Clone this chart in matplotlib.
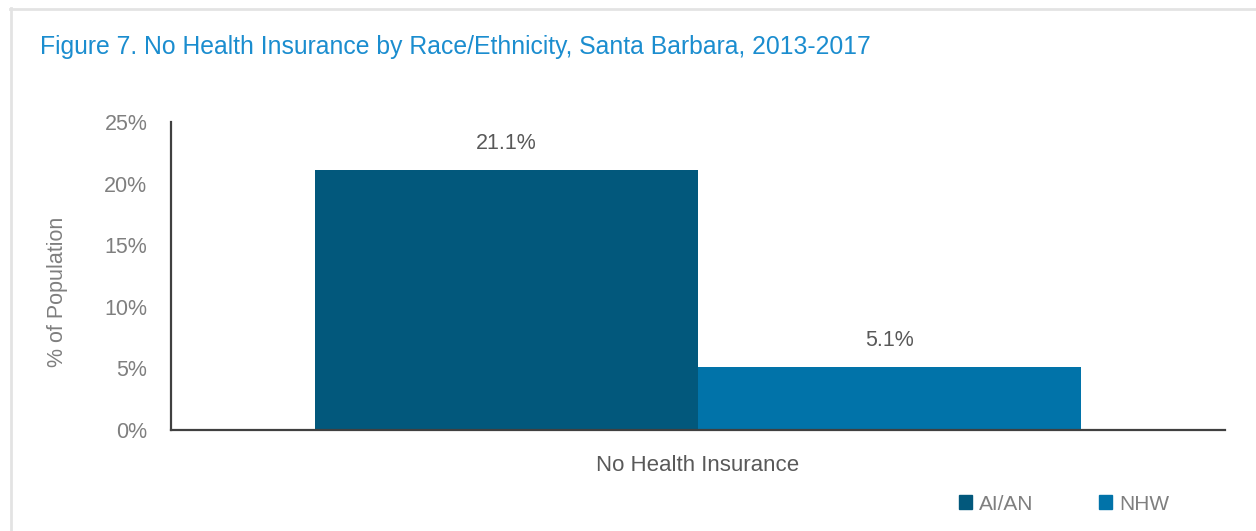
import matplotlib.pyplot as plt
from matplotlib.lines import Line2D
from matplotlib.patches import Patch

# data
category = "No Health Insurance"
groups = ["AI/AN", "NHW"]
values = [21.1, 5.1]
colors = ["#02587c", "#0173a9"]
yticks = [0, 5, 10, 15, 20, 25]

W, H, DPI = 1256, 531, 100
plt.rcParams['font.family'] = ['Liberation Sans', 'DejaVu Sans']
grey = "#7f7f7f"

fig = plt.figure(figsize=(W / DPI, H / DPI), dpi=DPI)
fig.patch.set_facecolor("white")

# light frame around the figure box
fig.add_artist(Line2D([10 / W, 1], [1 - 8.5 / H, 1 - 8.5 / H], color="#e3e3e3", lw=2))
fig.add_artist(Line2D([10.5 / W, 10.5 / W], [0, 1 - 8 / H], color="#e3e3e3", lw=2))

fig.text(40 / W, 1 - 47 / H, "Figure 7. No Health Insurance by Race/Ethnicity, Santa Barbara, 2013-2017",
         color="#1b8dcf", fontsize=17.8, va="center", ha="left")

ax = fig.add_axes([171 / W, 1 - 430 / H, (1225 - 171) / W, (430 - 122) / H])
bw = 383 / 1054
offsets = [-bw / 2, bw / 2]
for g, v, c, o in zip(groups, values, colors, offsets):
    ax.bar(o, v, width=bw, color=c, label=g)
    ax.text(o, v + 1.3, f"{v:.1f}%", ha="center", va="bottom", color="#595959", fontsize=15.5)

ax.set_xlim(-0.5, 0.5)
ax.set_ylim(0, 25)
ax.set_yticks(yticks)
ax.set_yticklabels([f"{t}%" for t in yticks], color=grey, fontsize=15.5)
ax.set_xticks([0])
ax.set_xticklabels([category], color="#595959", fontsize=16)
ax.tick_params(length=0, axis="y", pad=17)
ax.tick_params(length=0, axis="x", pad=18)
for s in ["top", "right"]:
    ax.spines[s].set_visible(False)
for s in ["left", "bottom"]:
    ax.spines[s].set_color("#404040")
    ax.spines[s].set_linewidth(1.6)
ax.set_ylabel("% of Population", color=grey, fontsize=15.5)
ax.yaxis.set_label_coords(-103 / 1054, 0.45)

handles = [Patch(color=c) for c in colors]
fig.legend(handles, groups, loc="center left", bbox_to_anchor=(940 / W, 1 - 504 / H),
           ncol=2, frameon=False, fontsize=15, labelcolor=grey,
           handlelength=0.62, handleheight=0.62, handletextpad=0.35, columnspacing=3.15)

fig.savefig("out.png", dpi=DPI, facecolor="white")
